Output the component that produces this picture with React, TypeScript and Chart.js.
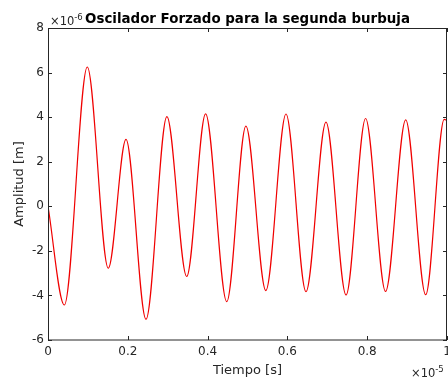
import React, { useEffect, useRef } from "react";
import { Chart, registerables } from "chart.js";

Chart.register(...registerables);

// Turning points of the curve.
// Time in units of 1e-5 s, amplitude in units of 1e-6 m
const timeValues = [
  0, 0.041, 0.0985, 0.151, 0.1955, 0.2456, 0.298, 0.3476, 0.395, 0.448,
  0.496, 0.546, 0.5965, 0.6466, 0.6967, 0.747, 0.796, 0.846, 0.8965, 0.9466,
  0.993, 1.0,
];
const amplitudeValues = [
  0, -4.43, 6.25, -2.78, 3.0, -5.07, 4.02, -3.15, 4.15, -4.28,
  3.6, -3.78, 4.14, -3.83, 3.78, -3.98, 3.94, -3.82, 3.88, -3.97,
  3.9, 3.85,
];
const xTicks = [0, 0.2, 0.4, 0.6, 0.8, 1];
const yTicks = [-6, -4, -2, 0, 2, 4, 6, 8];

const TITLE = "Oscilador Forzado para la segunda burbuja";
const X_LABEL = "Tiempo [s]";
const Y_LABEL = "Amplitud [m]";
const FONT = "'DejaVu Sans', sans-serif";
const TEXT_COLOR = "#262626";
const AXIS_COLOR = "#262626";

const decorPlugin = {
  id: "decor",
  afterDraw(chart: any) {
    const { ctx, chartArea } = chart;
    const { left, right, top, bottom } = chartArea;
    const xs = chart.scales.x;
    const ys = chart.scales.y;
    ctx.save();
    ctx.strokeStyle = AXIS_COLOR;
    ctx.lineWidth = 1;
    ctx.strokeRect(left + 0.5, top + 0.5, right - left - 1, bottom - top - 0.5);
    const tl = 4;
    ctx.beginPath();
    xTicks.forEach((t) => {
      const px = Math.round(xs.getPixelForValue(t)) + 0.5;
      ctx.moveTo(px, bottom);
      ctx.lineTo(px, bottom - tl);
      ctx.moveTo(px, top);
      ctx.lineTo(px, top + tl);
    });
    yTicks.forEach((t) => {
      const py = Math.round(ys.getPixelForValue(t)) + 0.5;
      ctx.moveTo(left, py);
      ctx.lineTo(left + tl, py);
      ctx.moveTo(right, py);
      ctx.lineTo(right - tl, py);
    });
    ctx.stroke();

    // Title
    ctx.fillStyle = "#000";
    ctx.font = `bold 13.4px ${FONT}`;
    ctx.textAlign = "center";
    ctx.textBaseline = "alphabetic";
    ctx.fillText(TITLE, (left + right) / 2, 23);

    // Exponent labels
    const drawExp = (x: number, y: number, exp: string) => {
      ctx.fillStyle = TEXT_COLOR;
      ctx.textAlign = "left";
      ctx.font = `11.5px ${FONT}`;
      const base = "\u00d710";
      ctx.fillText(base, x, y);
      const w = ctx.measureText(base).width;
      ctx.font = `8.5px ${FONT}`;
      ctx.fillText(exp, x + w, y - 5);
    };
    drawExp(50, 25, "-6");
    drawExp(411, 377, "-5");
    ctx.restore();
  },
};

export default function App() {
  const ref = useRef<HTMLCanvasElement | null>(null);
  useEffect(() => {
    document.body.style.margin = "0";
    const canvas = ref.current;
    if (!canvas) return;
    const data = timeValues.map((t, i) => ({ x: t, y: amplitudeValues[i] }));
    const chart = new Chart(canvas, {
      type: "line",
      data: {
        datasets: [
          {
            data,
            borderColor: "#f00000",
            borderWidth: 1.2,
            pointRadius: 0,
            cubicInterpolationMode: "monotone",
            fill: false,
          },
        ],
      },
      options: {
        animation: false,
        responsive: false,
        devicePixelRatio: 1,
        layout: { padding: { left: 0, right: 1, top: 28, bottom: 0 } },
        plugins: { legend: { display: false }, title: { display: false }, tooltip: { enabled: false } },
        scales: {
          x: {
            type: "linear",
            min: 0,
            max: 1,
            afterFit: (s: any) => {
              s.height = 46;
              s.paddingLeft = 0;
              s.paddingRight = 0;
            },
            afterBuildTicks: (s: any) => {
              s.ticks = xTicks.map((v) => ({ value: v }));
            },
            grid: { display: false, drawTicks: false },
            border: { display: false },
            ticks: {
              padding: 5,
              maxRotation: 0,
              autoSkip: false,
              color: TEXT_COLOR,
              font: { family: FONT, size: 12 },
              callback: (v: any) => String(Number(v)),
            },
            title: {
              display: true,
              text: X_LABEL,
              color: TEXT_COLOR,
              font: { family: FONT, size: 13 },
              padding: { top: 0, bottom: 8 },
            },
          },
          y: {
            type: "linear",
            min: -6,
            max: 8,
            afterFit: (s: any) => {
              s.width = 48;
              s.paddingTop = 0;
              s.paddingBottom = 0;
            },
            afterBuildTicks: (s: any) => {
              s.ticks = yTicks.map((v) => ({ value: v }));
            },
            grid: { display: false, drawTicks: false },
            border: { display: false },
            ticks: {
              padding: 4,
              autoSkip: false,
              color: TEXT_COLOR,
              font: { family: FONT, size: 12 },
              callback: (v: any) => String(Number(v)),
            },
            title: {
              display: true,
              text: Y_LABEL,
              color: TEXT_COLOR,
              font: { family: FONT, size: 13 },
              padding: { top: 12, bottom: 0 },
            },
          },
        },
      },
      plugins: [decorPlugin],
    });
    return () => chart.destroy();
  }, []);
  return (
    <div style={{ position: "absolute", left: 0, top: 0, width: 448, height: 386, background: "#fff" }}>
      <canvas ref={ref} width={448} height={386} />
    </div>
  );
}
